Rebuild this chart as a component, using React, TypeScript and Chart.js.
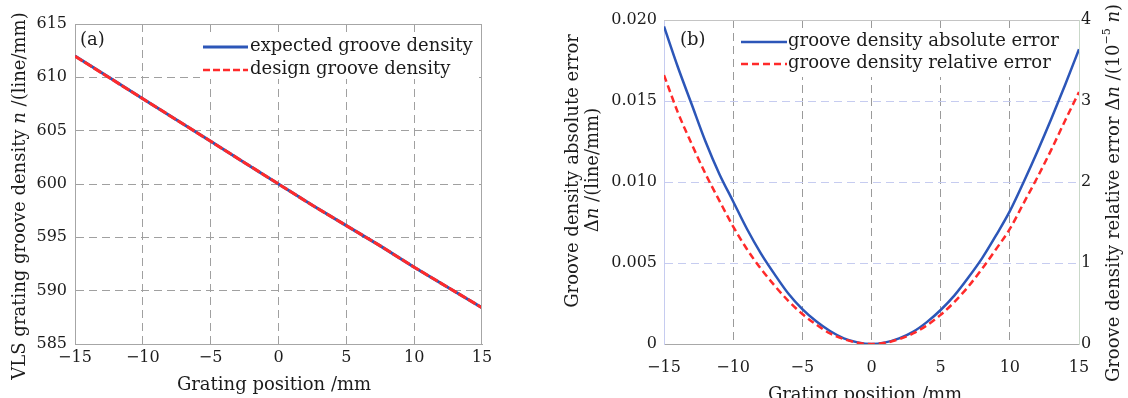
import { useEffect, useRef } from "react";
import { Chart, registerables } from "chart.js";

Chart.register(...registerables);

// ---------- data ----------
const POS_A = [-15, -12.5, -10, -7.5, -5, -2.5, 0, 2.5, 5, 7.5, 10, 12.5, 15];
const EXPECTED_DENSITY = [612.0, 610.0, 608.0, 606.0, 604.0, 602.0, 600.0, 598.0, 596.1, 594.2, 592.2, 590.3, 588.4];
const DESIGN_DENSITY = [611.98, 609.99, 607.99, 606.0, 604.0, 602.0, 600.0, 598.0, 596.1, 594.2, 592.2, 590.3, 588.4];

const POS_B = [-15, -14, -13, -12, -11, -10, -9, -8, -7, -6, -5, -4, -3, -2, -1, 0, 1, 2, 3, 4, 5, 6, 7, 8, 9, 10, 11, 12, 13, 14, 15];
const ABS_ERROR = [0.0196, 0.0171, 0.0148, 0.0125, 0.0105, 0.0088, 0.0071, 0.0056, 0.0043, 0.0031, 0.00215, 0.0014, 0.0008, 0.00035, 0.0001, 0.0, 0.0001, 0.00035, 0.00075, 0.00135, 0.0021, 0.003, 0.0041, 0.0053, 0.0067, 0.0082, 0.01, 0.0119, 0.0139, 0.016, 0.0182];
const REL_ERROR = [3.32, 2.86, 2.47, 2.1, 1.77, 1.45, 1.17, 0.93, 0.72, 0.53, 0.37, 0.24, 0.13, 0.06, 0.015, 0.0, 0.015, 0.06, 0.13, 0.23, 0.36, 0.52, 0.71, 0.93, 1.17, 1.42, 1.74, 2.06, 2.4, 2.76, 3.11];

const X_TICKS = [-15, -10, -5, 0, 5, 10, 15];
const Y_TICKS_A = [585, 590, 595, 600, 605, 610, 615];
const Y_TICKS_B = [0, 0.005, 0.01, 0.015, 0.02];
const Y1_TICKS_B = [0, 1, 2, 3, 4];

const LEGEND_A = ["expected groove density", "design groove density"];
const LEGEND_B = ["groove density absolute error", "groove density relative error"];
const PANEL_A = "(a)";
const PANEL_B = "(b)";

type Seg = { t: string; it?: boolean; sup?: boolean };
const X_TITLE: Seg[] = [{ t: "Grating position /mm" }];
const Y_TITLE_A: Seg[] = [{ t: "VLS grating groove density " }, { t: "n", it: true }, { t: " /(line/mm)" }];
const Y_TITLE_B1: Seg[] = [{ t: "Groove density absolute error" }];
const Y_TITLE_B2: Seg[] = [{ t: "\u0394" }, { t: "n", it: true }, { t: " /(line/mm)" }];
const Y1_TITLE_B: Seg[] = [
  { t: "Groove density relative error \u0394" },
  { t: "n", it: true },
  { t: " /(10" },
  { t: "\u22125", sup: true },
  { t: " " },
  { t: "n", it: true },
  { t: ")" },
];

// ---------- styles ----------
const FONT = '"DejaVu Serif", serif';
const TEXT = "#1c1c1c";
const BLUE = "#2c56b8";
const RED = "#ff2a2a";

function segFont(s: Seg, size: number) {
  const sz = s.sup ? Math.round(size * 0.62) : size;
  return `${s.it ? "italic " : ""}${sz}px ${FONT}`;
}

function drawRich(ctx: CanvasRenderingContext2D, segs: Seg[], cx: number, cy: number, rot: number, size: number, baseline: CanvasTextBaseline = "middle") {
  ctx.save();
  ctx.translate(cx, cy);
  ctx.rotate(rot);
  let total = 0;
  for (const s of segs) {
    ctx.font = segFont(s, size);
    total += ctx.measureText(s.t).width;
  }
  let x = -total / 2;
  ctx.textBaseline = baseline;
  ctx.textAlign = "left";
  ctx.fillStyle = TEXT;
  for (const s of segs) {
    ctx.font = segFont(s, size);
    ctx.fillText(s.t, x, s.sup ? -size * 0.38 : 0);
    x += ctx.measureText(s.t).width;
  }
  ctx.restore();
}

function line(ctx: CanvasRenderingContext2D, x1: number, y1: number, x2: number, y2: number, color: string, w = 1, dash: number[] = []) {
  ctx.save();
  ctx.strokeStyle = color;
  ctx.lineWidth = w;
  ctx.setLineDash(dash);
  ctx.beginPath();
  ctx.moveTo(x1, y1);
  ctx.lineTo(x2, y2);
  ctx.stroke();
  ctx.restore();
}

const fmtMinus = (v: number | string) => String(v).replace("-", "\u2212");

function edgeHiddenColor(color: string) {
  return (c: any) => {
    const ticks = c.scale?.ticks || [];
    if (c.index === 0 || c.index === ticks.length - 1) return "rgba(0,0,0,0)";
    return color;
  };
}

const tickFont = { family: FONT, size: 16 };

export default function App() {
  const refA = useRef<HTMLCanvasElement>(null);
  const refB = useRef<HTMLCanvasElement>(null);

  useEffect(() => {
    document.body.style.margin = "0";

    const decoA = {
      id: "decoA",
      afterDraw(chart: any) {
        const ctx = chart.ctx as CanvasRenderingContext2D;
        const a = chart.chartArea;
        line(ctx, a.left, a.top + 0.5, a.right, a.top + 0.5, "#a6a6a6");
        line(ctx, a.right - 0.5, a.top, a.right - 0.5, a.bottom, "#a6a6a6");
        // legend
        ctx.save();
        ctx.fillStyle = "#ffffff";
        ctx.fillRect(200, 34, 278, 45);
        ctx.restore();
        line(ctx, 203, 47, 248, 47, BLUE, 3);
        line(ctx, 203, 70, 248, 70, RED, 2.5, [7, 3]);
        ctx.save();
        ctx.font = `18px ${FONT}`;
        ctx.fillStyle = TEXT;
        ctx.textBaseline = "middle";
        ctx.textAlign = "left";
        ctx.fillText(LEGEND_A[0], 250, 46);
        ctx.fillText(LEGEND_A[1], 250, 69);
        ctx.fillText(PANEL_A, 80, 40);
        ctx.restore();
        drawRich(ctx, Y_TITLE_A, 20, 196, -Math.PI / 2, 18);
        drawRich(ctx, X_TITLE, 274, 390, 0, 18, "alphabetic");
      },
    };

    const chartA = new Chart(refA.current!, {
      type: "line",
      data: {
        datasets: [
          {
            label: LEGEND_A[0],
            data: POS_A.map((x, i) => ({ x, y: EXPECTED_DENSITY[i] })),
            borderColor: BLUE,
            borderWidth: 3,
            pointRadius: 0,
            tension: 0,
            order: 2,
          },
          {
            label: LEGEND_A[1],
            data: POS_A.map((x, i) => ({ x, y: DESIGN_DENSITY[i] })),
            borderColor: RED,
            borderWidth: 3,
            borderDash: [9, 2],
            pointRadius: 0,
            tension: 0,
            order: 1,
          },
        ],
      },
      options: {
        responsive: false,
        animation: false,
        devicePixelRatio: 1,
        layout: { padding: { left: 0, top: 24, right: 58, bottom: 0 } },
        plugins: { legend: { display: false }, tooltip: { enabled: false } },
        scales: {
          x: {
            type: "linear",
            min: -15,
            max: 15,
            afterBuildTicks: (s: any) => {
              s.ticks = X_TICKS.map((v) => ({ value: v }));
            },
            afterFit: (s: any) => {
              s.height = 54;
            },
            ticks: { font: tickFont, color: TEXT, padding: 4, maxRotation: 0, autoSkip: false, callback: (v: any) => fmtMinus(v) },
            grid: { color: edgeHiddenColor("#a0a0a0"), drawTicks: false, lineWidth: 1 },
            border: { color: "#a6a6a6", dash: [8, 5] },
          },
          y: {
            type: "linear",
            min: 585,
            max: 615,
            afterBuildTicks: (s: any) => {
              s.ticks = Y_TICKS_A.map((v) => ({ value: v }));
            },
            afterFit: (s: any) => {
              s.width = 75;
            },
            ticks: { font: tickFont, color: TEXT, padding: 8, callback: (v: any) => fmtMinus(v) },
            grid: { color: edgeHiddenColor("#a0a0a0"), drawTicks: false, lineWidth: 1 },
            border: { color: "#a6a6a6", dash: [8, 5] },
          },
        },
      },
      plugins: [decoA],
    } as any);

    const decoB = {
      id: "decoB",
      afterDraw(chart: any) {
        const ctx = chart.ctx as CanvasRenderingContext2D;
        const a = chart.chartArea;
        line(ctx, a.left, a.top + 0.5, a.right, a.top + 0.5, "#c4c4c4");
        ctx.save();
        ctx.fillStyle = "#ffffff";
        ctx.fillRect(197, 30, 327, 47);
        ctx.restore();
        line(ctx, 201, 42, 247, 42, BLUE, 2.5);
        line(ctx, 201, 64, 247, 64, RED, 2.5, [7, 4]);
        ctx.save();
        ctx.font = `18px ${FONT}`;
        ctx.fillStyle = TEXT;
        ctx.textBaseline = "middle";
        ctx.textAlign = "left";
        ctx.fillText(LEGEND_B[0], 248, 41);
        ctx.fillText(LEGEND_B[1], 248, 63);
        ctx.fillText(PANEL_B, 140, 40);
        ctx.restore();
        drawRich(ctx, Y_TITLE_B1, 33, 171, -Math.PI / 2, 18);
        drawRich(ctx, Y_TITLE_B2, 53, 170, -Math.PI / 2, 18);
        drawRich(ctx, Y1_TITLE_B, 574, 193, -Math.PI / 2, 18);
        drawRich(ctx, X_TITLE, 325, 400, 0, 18, "alphabetic");
      },
    };

    const chartB = new Chart(refB.current!, {
      type: "line",
      data: {
        datasets: [
          {
            label: LEGEND_B[0],
            data: POS_B.map((x, i) => ({ x, y: ABS_ERROR[i] })),
            yAxisID: "y",
            borderColor: BLUE,
            borderWidth: 2.5,
            pointRadius: 0,
            cubicInterpolationMode: "monotone",
            order: 2,
          },
          {
            label: LEGEND_B[1],
            data: POS_B.map((x, i) => ({ x, y: REL_ERROR[i] })),
            yAxisID: "y1",
            borderColor: RED,
            borderWidth: 2.5,
            borderDash: [7, 4],
            pointRadius: 0,
            cubicInterpolationMode: "monotone",
            order: 1,
          },
        ],
      },
      options: {
        responsive: false,
        animation: false,
        devicePixelRatio: 1,
        layout: { padding: { left: 0, top: 20, right: 0, bottom: 0 } },
        plugins: { legend: { display: false }, tooltip: { enabled: false } },
        scales: {
          x: {
            type: "linear",
            min: -15,
            max: 15,
            afterBuildTicks: (s: any) => {
              s.ticks = X_TICKS.map((v) => ({ value: v }));
            },
            afterFit: (s: any) => {
              s.height = 54;
            },
            ticks: { font: tickFont, color: TEXT, padding: 14, maxRotation: 0, autoSkip: false, callback: (v: any) => fmtMinus(v) },
            grid: { color: edgeHiddenColor("#9a9a9a"), drawTicks: false, lineWidth: 1 },
            border: { color: "#a8a8a8", dash: [8, 5] },
          },
          y: {
            type: "linear",
            position: "left",
            min: 0,
            max: 0.02,
            afterBuildTicks: (s: any) => {
              s.ticks = Y_TICKS_B.map((v) => ({ value: v }));
            },
            afterFit: (s: any) => {
              s.width = 124;
            },
            ticks: { font: tickFont, color: TEXT, padding: 7, callback: (v: any) => (v === 0 ? "0" : Number(v).toFixed(3)) },
            grid: { color: edgeHiddenColor("#c6ccf0"), drawTicks: false, lineWidth: 1 },
            border: { color: "#c6ccf0", dash: [8, 5] },
          },
          y1: {
            type: "linear",
            position: "right",
            min: 0,
            max: 4,
            afterBuildTicks: (s: any) => {
              s.ticks = Y1_TICKS_B.map((v) => ({ value: v }));
            },
            afterFit: (s: any) => {
              s.width = 49;
            },
            ticks: { font: tickFont, color: TEXT, padding: 2, callback: (v: any) => String(v) },
            grid: { display: false, drawTicks: false },
            border: { color: "#c9d8c9" },
          },
        },
      },
      plugins: [decoB],
    } as any);

    return () => {
      chartA.destroy();
      chartB.destroy();
    };
  }, []);

  return (
    <div style={{ position: "absolute", left: 0, top: 0, width: 1128, height: 398, background: "#fff", overflow: "hidden" }}>
      <canvas ref={refA} width={540} height={398} style={{ position: "absolute", left: 0, top: 0, width: 540, height: 398 }} />
      <canvas ref={refB} width={588} height={398} style={{ position: "absolute", left: 540, top: 0, width: 588, height: 398 }} />
    </div>
  );
}
